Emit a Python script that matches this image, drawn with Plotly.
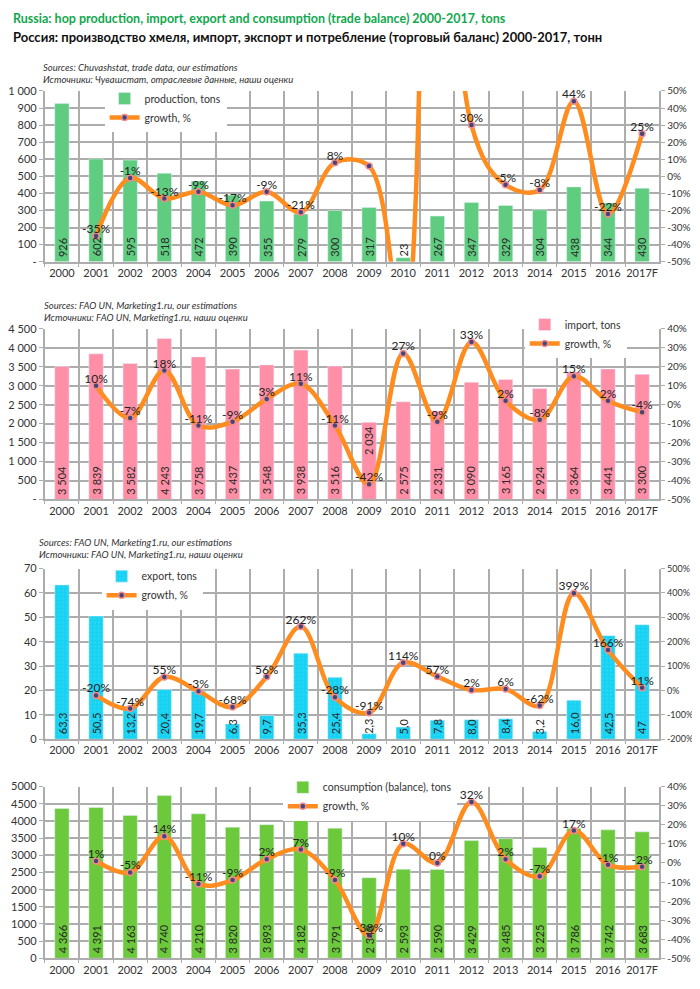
import plotly.graph_objects as go

years = ["2000", "2001", "2002", "2003", "2004", "2005", "2006", "2007", "2008",
         "2009", "2010", "2011", "2012", "2013", "2014", "2015", "2016", "2017F"]

production = [926, 602, 595, 518, 472, 390, 355, 279, 300, 317, 23, 267, 347, 329, 304, 438, 344, 430]
production_growth = [None, -35, -1, -13, -9, -17, -9, -21, 8, 6, -93, 1061, 30, -5, -8, 44, -22, 25]

imports = [3504, 3839, 3582, 4243, 3758, 3437, 3548, 3938, 3516, 2034, 2575, 2331, 3090, 3165, 2924, 3364, 3441, 3300]
import_growth = [None, 10, -7, 18, -11, -9, 3, 11, -11, -42, 27, -9, 33, 2, -8, 15, 2, -4]

exports = [63.3, 50.5, 13.2, 20.4, 19.7, 6.3, 9.7, 35.3, 25.4, 2.3, 5.0, 7.8, 8.0, 8.4, 3.2, 16.0, 42.5, 47]
export_labels = ["63,3", "50,5", "13,2", "20,4", "19,7", "6,3", "9,7", "35,3", "25,4", "2,3", "5,0",
                 "7,8", "8,0", "8,4", "3,2", "16,0", "42,5", "47"]
export_growth = [None, -20, -74, 55, -3, -68, 56, 262, -28, -91, 114, 57, 2, 6, -62, 399, 166, 11]

consumption = [4366, 4391, 4163, 4740, 4210, 3820, 3893, 4182, 3791, 2348, 2593, 2590, 3429, 3485, 3225, 3786, 3742, 3683]
consumption_growth = [None, 1, -5, 14, -11, -9, 2, 7, -9, -38, 10, 0, 32, 2, -7, 17, -1, -2]

prod_ticks = [0, 100, 200, 300, 400, 500, 600, 700, 800, 900, 1000]
prod_ticktext = ["-", "100", "200", "300", "400", "500", "600", "700", "800", "900", "1 000"]
imp_ticks = [0, 500, 1000, 1500, 2000, 2500, 3000, 3500, 4000, 4500]
imp_ticktext = ["-", "500", "1 000", "1 500", "2 000", "2 500", "3 000", "3 500", "4 000", "4 500"]
exp_ticks = [0, 10, 20, 30, 40, 50, 60, 70]
exp_ticktext = ["0", "10", "20", "30", "40", "50", "60", "70"]
cons_ticks = [0, 500, 1000, 1500, 2000, 2500, 3000, 3500, 4000, 4500, 5000]
cons_ticktext = ["0", "500", "1000", "1500", "2000", "2500", "3000", "3500", "4000", "4500", "5000"]

pct_ticks_50_50 = [-50, -40, -30, -20, -10, 0, 10, 20, 30, 40, 50]
pct_ticks_50_40 = [-50, -40, -30, -20, -10, 0, 10, 20, 30, 40]
pct_ticks_200_500 = [-200, -100, 0, 100, 200, 300, 400, 500]


def fmt(v):
    return f"{v:,}".replace(",", " ")


def pct(v):
    return f"{v}%"


# page is offset by the default 8px body margin
OFF = 8
W, H = 700 - OFF, 989 - OFF
FONT = "Lato"
GRID = "#adadad"
TXT = "#333333"
ORANGE = "#ff8c1e"


def pxx(px):
    return (px - OFF) / W


def py(px):
    return 1 - (px - OFF) / H


panels = [
    dict(vals=production, labels=[fmt(v) for v in production], growth=production_growth,
         color="#5fcc80", name="production, tons", top=85, bot=258,
         yr=[0, 1000], ticks=prod_ticks, ticktext=prod_ticktext,
         y2r=[-50, 50], y2t=pct_ticks_50_50, y2fs=10, leg=(102, 78), pattern=None, toplab=()),
    dict(vals=imports, labels=[fmt(v) for v in imports], growth=import_growth,
         color="#ff8fa7", name="import, tons", top=326, bot=499,
         yr=[0, 4500], ticks=imp_ticks, ticktext=imp_ticktext,
         y2r=[-50, 40], y2t=pct_ticks_50_40, y2fs=10, leg=(524, 307), pattern=None, toplab=(9,)),
    dict(vals=exports, labels=export_labels, growth=export_growth,
         color="#16d2f3", name="export, tons", top=569, bot=742,
         yr=[0, 70], ticks=exp_ticks, ticktext=exp_ticktext,
         y2r=[-200, 500], y2t=pct_ticks_200_500, y2fs=9, leg=(99, 562), pattern=".", toplab=()),
    dict(vals=consumption, labels=[fmt(v) for v in consumption], growth=consumption_growth,
         color="#6cc93c", name="consumption (balance), tons", top=790, bot=964,
         yr=[0, 5000], ticks=cons_ticks, ticktext=cons_ticktext,
         y2r=[-50, 40], y2t=pct_ticks_50_40, y2fs=10, leg=(281, 776), pattern=None, toplab=()),
]

fig = go.Figure()
layout = dict(width=W, height=H, margin=dict(l=0, r=0, t=0, b=0),
              paper_bgcolor="white", plot_bgcolor="white",
              font=dict(family=FONT, size=11, color=TXT),
              bargap=0.58, showlegend=True)
annotations = []
xd = [pxx(42), pxx(659)]

for i, p in enumerate(panels):
    n = i + 1
    xa = "x" if n == 1 else f"x{n}"
    ya = f"y{2 * n - 1}" if n > 1 else "y"
    yb = f"y{2 * n}"
    legname = "legend" if n == 1 else f"legend{n}"
    marker = dict(color=p["color"])
    if p["pattern"]:
        marker["pattern"] = dict(shape=".", fgcolor="#8fe9f9", size=4, solidity=0.12)
    fig.add_trace(go.Bar(x=years, y=p["vals"], name=p["name"], marker=marker,
                         xaxis=xa, yaxis=ya, legend=legname, hoverinfo="skip"))
    fig.add_trace(go.Scatter(
        x=years, y=p["growth"], name="growth, %", mode="lines+markers",
        line=dict(color=ORANGE, width=4.5, shape="spline", smoothing=1.0),
        marker=dict(size=6, color="#45457a", line=dict(color="#f28c8c", width=1.5)),
        cliponaxis=True, connectgaps=False,
        xaxis=xa, yaxis=yb, legend=legname, hoverinfo="skip"))
    lo, hi = p["y2r"]
    fig.add_trace(go.Scatter(
        x=years, y=p["growth"], mode="text", showlegend=False,
        text=[None if (g is None or g < lo or g > hi) else f"{g}%" for g in p["growth"]],
        textposition="top center", textfont=dict(size=12, color="#222222"),
        cliponaxis=False, xaxis=xa, yaxis=yb, hoverinfo="skip"))

    yd = [py(p["bot"]), py(p["top"])]
    layout["xaxis" if n == 1 else f"xaxis{n}"] = dict(
        domain=xd, anchor=ya, type="category", tickson="boundaries",
        range=[-0.5, len(years) - 0.5], tickangle=0,
        showgrid=True, gridcolor=GRID, gridwidth=2, showline=True, linecolor=GRID,
        linewidth=2, ticks="outside", ticklen=3, tickcolor=GRID,
        tickfont=dict(size=11, color=TXT), fixedrange=True)
    layout["yaxis" if n == 1 else f"yaxis{2 * n - 1}"] = dict(
        domain=yd, anchor=xa, range=p["yr"], tickvals=p["ticks"], ticktext=p["ticktext"],
        showgrid=True, gridcolor=GRID, gridwidth=2, showline=True, linecolor=GRID,
        linewidth=2, ticks="outside", ticklen=4, tickcolor=GRID, zeroline=False,
        tickfont=dict(size=11, color=TXT))
    layout[f"yaxis{2 * n}"] = dict(
        overlaying=ya, anchor=xa, side="right", range=p["y2r"],
        tickvals=p["y2t"], ticktext=[pct(v) for v in p["y2t"]],
        showgrid=False, zeroline=False,
        showline=True, linecolor=GRID, linewidth=2, ticks="outside", ticklen=4,
        tickcolor=GRID, tickfont=dict(size=p["y2fs"], color=TXT))
    layout[legname] = dict(
        x=pxx(p["leg"][0]), y=py(p["leg"][1]), xanchor="left", yanchor="top",
        bgcolor="white", font=dict(size=10.5, color=TXT), tracegroupgap=0,
        itemwidth=30, traceorder="normal")

    for k, lab in enumerate(p["labels"]):
        if k in p["toplab"]:
            annotations.append(dict(
                x=k, y=p["vals"][k], xref=xa, yref=ya, text=lab, textangle=-90,
                showarrow=False, xanchor="center", yanchor="top", yshift=-2,
                font=dict(size=11, color="#2a2a2a")))
        else:
            annotations.append(dict(
                x=k, y=0, xref=xa, yref=ya, text=lab, textangle=-90, showarrow=False,
                xanchor="center", yanchor="bottom", yshift=3,
                font=dict(size=11, color="#2a2a2a")))

# titles and sources
annotations += [
    dict(x=pxx(8), y=py(12), xref="paper", yref="paper", xanchor="left", yanchor="middle",
         text="<b>Russia: hop production, import, export and consumption (trade balance) 2000-2017, tons</b>",
         showarrow=False, font=dict(size=12.5, color="#10a84e", family=FONT)),
    dict(x=pxx(8), y=py(30), xref="paper", yref="paper", xanchor="left", yanchor="middle",
         text="<b>Россия: производство хмеля, импорт, экспорт и потребление (торговый баланс) 2000-2017, тонн</b>",
         showarrow=False, font=dict(size=13, color="#111111", family=FONT)),
]
sources = [
    (38, 67, "Sources: Chuvashstat, trade data, our estimations",
     "Источники: Чувашстат, отраслевые данные, наши оценки"),
    (39, 308.5, "Sources: FAO UN, Marketing1.ru, our estimations",
     "Источники: FAO UN, Marketing1.ru, наши оценки"),
    (34, 548.5, "Sources: FAO UN, Marketing1.ru, our estimations",
     "Источники: FAO UN, Marketing1.ru, наши оценки"),
]
for sx, sy, s1, s2 in sources:
    annotations.append(dict(x=pxx(sx), y=py(sy), xref="paper", yref="paper", xanchor="left",
                            yanchor="middle", align="left", text=f"<i>{s1}<br>{s2}</i>",
                            showarrow=False, font=dict(size=9.5, color=TXT)))

layout["annotations"] = annotations
fig.update_layout(**layout)
fig.write_html("out.html")
